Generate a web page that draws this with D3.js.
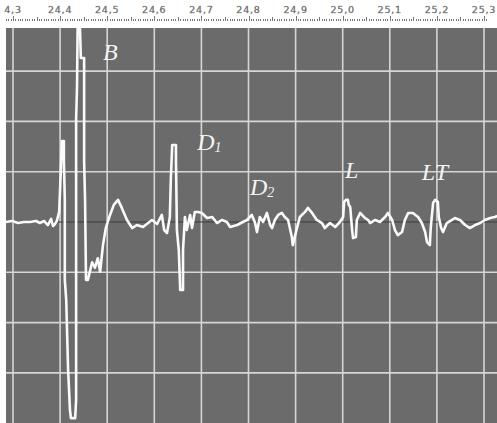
<!DOCTYPE html>
<html>
<head>
<meta charset="utf-8">
<script src="https://cdn.jsdelivr.net/npm/d3@7"></script>
<style>
  html, body { margin: 0; padding: 0; background: #fff; }
  svg { display: block; }
</style>
</head>
<body>
<svg id="chart" width="497" height="423"></svg>
<script>
// time ticks along the top (seconds), first label is cut off in the original
var tickValues = [24.3, 24.4, 24.5, 24.6, 24.7, 24.8, 24.9, 25.0, 25.1, 25.2, 25.3];
var tickLabels = ["4,3", "24,4", "24,5", "24,6", "24,7", "24,8", "24,9", "25,0", "25,1", "25,2", "25,3"];
var gridLevels = [-3, -2, -1, 1, 2, 3];

// trace: time (s) and amplitude (grid units)
var traceT = [
  24.285, 24.298, 24.311, 24.323, 24.336, 24.349, 24.357, 24.366, 24.374, 24.381, 24.385, 24.389,
  24.393, 24.398, 24.402, 24.404, 24.408, 24.408, 24.410, 24.410, 24.413, 24.417, 24.421, 24.423,
  24.432, 24.434, 24.434, 24.436, 24.438, 24.440, 24.444, 24.451, 24.451, 24.453, 24.455, 24.459,
  24.468, 24.474, 24.480, 24.485, 24.491, 24.497, 24.506, 24.514, 24.523, 24.531, 24.542, 24.553,
  24.563, 24.576, 24.587, 24.595, 24.606, 24.616, 24.621, 24.627, 24.633, 24.635, 24.638, 24.646,
  24.646, 24.648, 24.652, 24.655, 24.661, 24.661, 24.665, 24.669, 24.676, 24.680, 24.686, 24.693,
  24.701, 24.712, 24.723, 24.733, 24.744, 24.754, 24.761, 24.776, 24.788, 24.797, 24.807, 24.814,
  24.818, 24.824, 24.831, 24.839, 24.846, 24.850, 24.856, 24.863, 24.871, 24.877, 24.884, 24.892,
  24.894, 24.903, 24.909, 24.920, 24.926, 24.935, 24.945, 24.956, 24.962, 24.973, 24.984, 24.994,
  25.001, 25.003, 25.007, 25.011, 25.013, 25.016, 25.020, 25.022, 25.028, 25.030, 25.037, 25.047,
  25.054, 25.058, 25.069, 25.079, 25.090, 25.096, 25.105, 25.111, 25.117, 25.126, 25.132, 25.139,
  25.149, 25.160, 25.168, 25.175, 25.179, 25.185, 25.187, 25.192, 25.196, 25.202, 25.204, 25.209,
  25.213, 25.221, 25.232, 25.238, 25.249, 25.260, 25.270, 25.281, 25.292, 25.302, 25.313, 25.323,
  25.328
];
var traceA = [
  0.00, 0.02, -0.02, 0.00, 0.00, 0.02, -0.02, 0.02, -0.06, 0.06, -0.08, -0.04,
  0.02, 0.20, 1.13, 1.61, 1.61, 1.23, 0.44, -1.15, -1.55, -2.94, -3.74, -3.90,
  -3.90, -3.54, 2.03, 2.72, 4.60, 4.60, 3.26, 3.26, 1.21, 0.44, -1.15, -1.15,
  -0.80, -0.91, -0.72, -0.99, -0.46, -0.12, 0.14, 0.34, 0.44, 0.28, 0.04, -0.12,
  -0.06, -0.10, -0.02, 0.04, -0.04, 0.14, -0.16, -0.22, 0.10, 0.83, 1.53, 1.53,
  1.23, -0.16, -0.56, -1.35, -1.35, -0.56, 0.10, -0.16, 0.14, -0.12, 0.20, 0.20,
  0.18, 0.08, 0.10, -0.02, 0.04, 0.00, -0.10, -0.06, 0.00, 0.04, 0.14, -0.02,
  -0.20, 0.10, 0.00, 0.18, -0.06, -0.12, 0.04, 0.14, 0.18, 0.10, 0.04, -0.30,
  -0.46, -0.12, 0.10, 0.20, 0.28, 0.18, 0.04, -0.02, -0.12, -0.02, -0.10, 0.00,
  0.10, 0.40, 0.44, 0.44, 0.34, 0.30, -0.16, -0.32, -0.30, 0.04, 0.18, 0.08,
  0.04, -0.02, 0.04, 0.00, 0.10, 0.18, 0.04, -0.16, -0.26, -0.20, 0.04, 0.18,
  0.18, 0.10, -0.02, -0.20, -0.40, -0.46, -0.10, 0.38, 0.44, 0.40, 0.10, -0.12,
  -0.20, -0.02, 0.04, 0.08, 0.04, -0.06, -0.12, -0.06, -0.02, 0.04, 0.08, 0.10,
  0.12
];

// wave labels: text, subscript, anchor time and amplitude (baseline)
var markNames = ["B", "D", "D", "L", "LT"];
var markSubs = ["", "1", "2", "", ""];
var markT = [24.491, 24.691, 24.803, 25.005, 25.168];
var markA = [3.22, 1.43, 0.54, 0.87, 0.83];

var svg = d3.select("#chart");
var plot = { left: 6, top: 28, right: 497, bottom: 423 };

var x = d3.scaleLinear().domain([24.3, 25.3]).range([13, 484]);
var y = d3.scaleLinear().domain([0, 1]).range([222, 171.7]);

// top ruler
var ruler = svg.append("g");
ruler.selectAll("text")
  .data(tickValues)
  .enter().append("text")
  .attr("x", function (d) { return x(d); })
  .attr("y", 13)
  .attr("text-anchor", "middle")
  .style("font-family", "DejaVu Sans")
  .style("font-size", "9.5px")
  .style("letter-spacing", "0.8px")
  .style("fill", "#444")
  .style("stroke", "#999")
  .style("stroke-width", 0.3)
  .text(function (d, i) { return tickLabels[i]; });

var minor = d3.range(0, 205).map(function (i) { return 24.285 + i * 0.005; })
  .filter(function (d) { return x(d) >= 2 && x(d) <= 496; });
ruler.selectAll("rect")
  .data(minor)
  .enter().append("rect")
  .attr("x", function (d) { return Math.round(x(d)); })
  .attr("y", function (d) {
    var k = Math.round(d * 1000);
    if (k % 100 === 0) return 16;
    if (k % 50 === 0) return 17;
    return 19;
  })
  .attr("width", 1)
  .attr("height", function (d) {
    var k = Math.round(d * 1000);
    if (k % 100 === 0) return 5;
    if (k % 50 === 0) return 4;
    return 2;
  })
  .style("fill", "#777");

// plot background
svg.append("rect")
  .attr("x", plot.left).attr("y", plot.top)
  .attr("width", plot.right - plot.left).attr("height", plot.bottom - plot.top)
  .style("fill", "#6b6b6b");

svg.append("defs").append("clipPath").attr("id", "clip")
  .append("rect")
  .attr("x", plot.left).attr("y", plot.top)
  .attr("width", plot.right - plot.left).attr("height", plot.bottom - plot.top);

var grid = svg.append("g").attr("clip-path", "url(#clip)");
grid.selectAll("line.v")
  .data(tickValues)
  .enter().append("line")
  .attr("class", "v")
  .attr("x1", function (d) { return x(d); })
  .attr("x2", function (d) { return x(d); })
  .attr("y1", plot.top).attr("y2", plot.bottom)
  .style("stroke", "#d6d6d6")
  .style("stroke-width", 1.6);
grid.selectAll("line.h")
  .data(gridLevels)
  .enter().append("line")
  .attr("class", "h")
  .attr("x1", plot.left).attr("x2", plot.right)
  .attr("y1", function (d) { return y(d); })
  .attr("y2", function (d) { return y(d); })
  .style("stroke", "#d6d6d6")
  .style("stroke-width", 1.6);
grid.append("line")
  .attr("x1", plot.left).attr("x2", plot.right)
  .attr("y1", y(0)).attr("y2", y(0))
  .style("stroke", "#3c3c3c")
  .style("stroke-width", 1.2);

// signal
var line = d3.line()
  .x(function (d) { return x(d); })
  .y(function (d, i) { return y(traceA[i]); });

grid.append("path")
  .datum(traceT)
  .attr("d", line)
  .style("fill", "none")
  .style("stroke", "#fafafa")
  .style("stroke-width", 2.6)
  .style("stroke-linejoin", "round");

// wave names
var marks = svg.append("g");
markNames.forEach(function (name, i) {
  var t = marks.append("text")
    .attr("x", x(markT[i]))
    .attr("y", y(markA[i]))
    .style("font-family", "Liberation Serif")
    .style("font-style", "italic")
    .style("font-size", "24px")
    .style("fill", "#f4f4f4")
    .text(name);
  if (markSubs[i]) {
    t.append("tspan")
      .attr("dy", 2)
      .style("font-size", "14px")
      .text(markSubs[i]);
  }
});
</script>
</body>
</html>
